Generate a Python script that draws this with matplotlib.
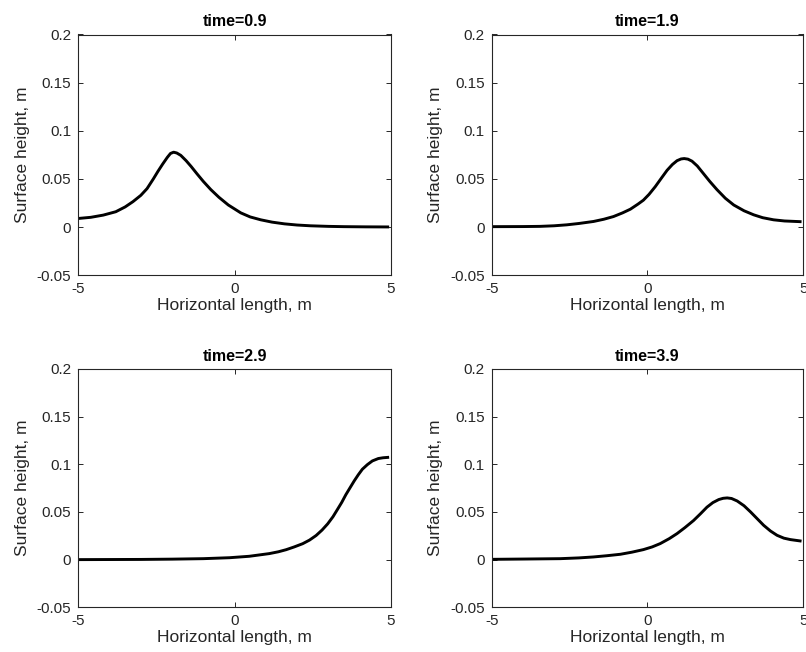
import matplotlib
matplotlib.use("Agg")
import matplotlib.pyplot as plt

plt.rcParams['font.family'] = ['Liberation Sans', 'DejaVu Sans']

# surface profiles, one per snapshot
times = ["0.9", "1.9", "2.9", "3.9"]

x1 = [-5.0, -4.6, -4.2, -3.8, -3.5, -3.25, -3.0, -2.8, -2.6, -2.45, -2.3, -2.15, -2.05,
      -1.95, -1.85, -1.72, -1.55, -1.39, -1.2, -1.0, -0.76, -0.5, -0.2, 0.2, 0.5, 0.84,
      1.2, 1.6, 2.0, 2.43, 3.0, 3.5, 4.2, 4.9]
y1 = [0.009, 0.0102, 0.0125, 0.016, 0.021, 0.0265, 0.033, 0.040, 0.050, 0.058, 0.0655, 0.0725, 0.0765,
      0.0778, 0.077, 0.0745, 0.069, 0.063, 0.0553, 0.0475, 0.039, 0.031, 0.023, 0.0148, 0.0106, 0.0076,
      0.0052, 0.0034, 0.0022, 0.0014, 0.0008, 0.0005, 0.0003, 0.0002]

x2 = [-5.0, -4.0, -3.45, -3.0, -2.59, -2.2, -1.73, -1.4, -1.09, -0.8, -0.55, -0.3, -0.13,
      0.05, 0.25, 0.45, 0.63, 0.8, 0.95, 1.08, 1.18, 1.3, 1.43, 1.6, 1.8, 2.0, 2.23, 2.5,
      2.77, 3.1, 3.41, 3.7, 4.05, 4.4, 4.9]
y2 = [0.0005, 0.0006, 0.0008, 0.0014, 0.0024, 0.0038, 0.0059, 0.0082, 0.011, 0.0148, 0.0186, 0.024, 0.028,
      0.034, 0.042, 0.051, 0.059, 0.065, 0.069, 0.0708, 0.0712, 0.0706, 0.0685, 0.0635, 0.0555, 0.0475, 0.039, 0.030,
      0.023, 0.017, 0.0128, 0.0098, 0.0076, 0.0064, 0.0057]

x3 = [-5.0, -4.0, -3.0, -2.0, -1.0, -0.16, 0.47, 1.11, 1.4, 1.65, 1.9, 2.18, 2.4, 2.61,
      2.8, 2.98, 3.15, 3.3, 3.43, 3.56, 3.7, 3.83, 3.96, 4.09, 4.25, 4.41, 4.6, 4.75, 4.9]
y3 = [0.0, 0.0001, 0.0002, 0.0005, 0.001, 0.002, 0.0035, 0.0063, 0.0082, 0.0104, 0.0132, 0.0167, 0.0205, 0.0253,
      0.031, 0.0375, 0.045, 0.053, 0.060, 0.068, 0.0756, 0.0826, 0.089, 0.0948, 0.0996, 0.1035, 0.106, 0.1068, 0.1072]

x4 = [-5.0, -4.0, -2.8, -2.2, -1.73, -1.3, -0.87, -0.5, -0.13, 0.15, 0.41, 0.7, 0.95, 1.2,
      1.48, 1.7, 1.91, 2.1, 2.29, 2.43, 2.56, 2.7, 2.88, 3.1, 3.31, 3.52, 3.73, 3.95, 4.16,
      4.38, 4.59, 4.9]
y4 = [0.0003, 0.0006, 0.001, 0.0018, 0.0028, 0.0041, 0.0056, 0.0078, 0.0105, 0.0133, 0.0168, 0.022, 0.0273, 0.0335,
      0.041, 0.048, 0.055, 0.0598, 0.063, 0.0643, 0.0647, 0.0641, 0.0615, 0.0565, 0.050, 0.043, 0.036, 0.030, 0.0255,
      0.0225, 0.021, 0.0196]

xs = [x1, x2, x3, x4]
ys = [y1, y2, y3, y4]

xticks = [-5, 0, 5]
yticks = [-0.05, 0, 0.05, 0.1, 0.15, 0.2]
yticklabels = ["-0.05", "0", "0.05", "0.1", "0.15", "0.2"]

W, H = 806, 652
fig = plt.figure(figsize=(W / 100, H / 100), dpi=100)

# axes boxes in pixels: left, top, width, height
boxes = [(78.3, 34.5, 312.5, 240.8), (491.7, 34.5, 311.5, 240.8),
         (78.3, 368.9, 312.5, 238.4), (491.7, 368.9, 311.5, 238.4)]

dark = '#262626'
for i in range(4):
    l, t, w, h = boxes[i]
    ax = fig.add_axes([l / W, (H - t - h) / H, w / W, h / H])
    ax.plot(xs[i], ys[i], color='k', lw=2.1, solid_joinstyle='round')
    ax.set_xlim(-5, 5)
    ax.set_ylim(-0.05, 0.2)
    ax.set_xticks(xticks)
    ax.set_xticklabels([str(v) for v in xticks])
    ax.set_yticks(yticks)
    ax.set_yticklabels(yticklabels)
    ax.tick_params(direction='in', top=True, right=True, length=3.5, width=0.7,
                   colors=dark, labelsize=11, pad=5)
    for s in ax.spines.values():
        s.set_color(dark)
        s.set_linewidth(0.8)
    ax.set_xlabel("Horizontal length, m", fontsize=12.5, color=dark, labelpad=1)
    ax.set_ylabel("Surface height, m", fontsize=12.5, color=dark, labelpad=5)
    ax.set_title("time=" + times[i], fontsize=11.5, fontweight='bold', pad=6)

fig.savefig("out.png", dpi=100)
